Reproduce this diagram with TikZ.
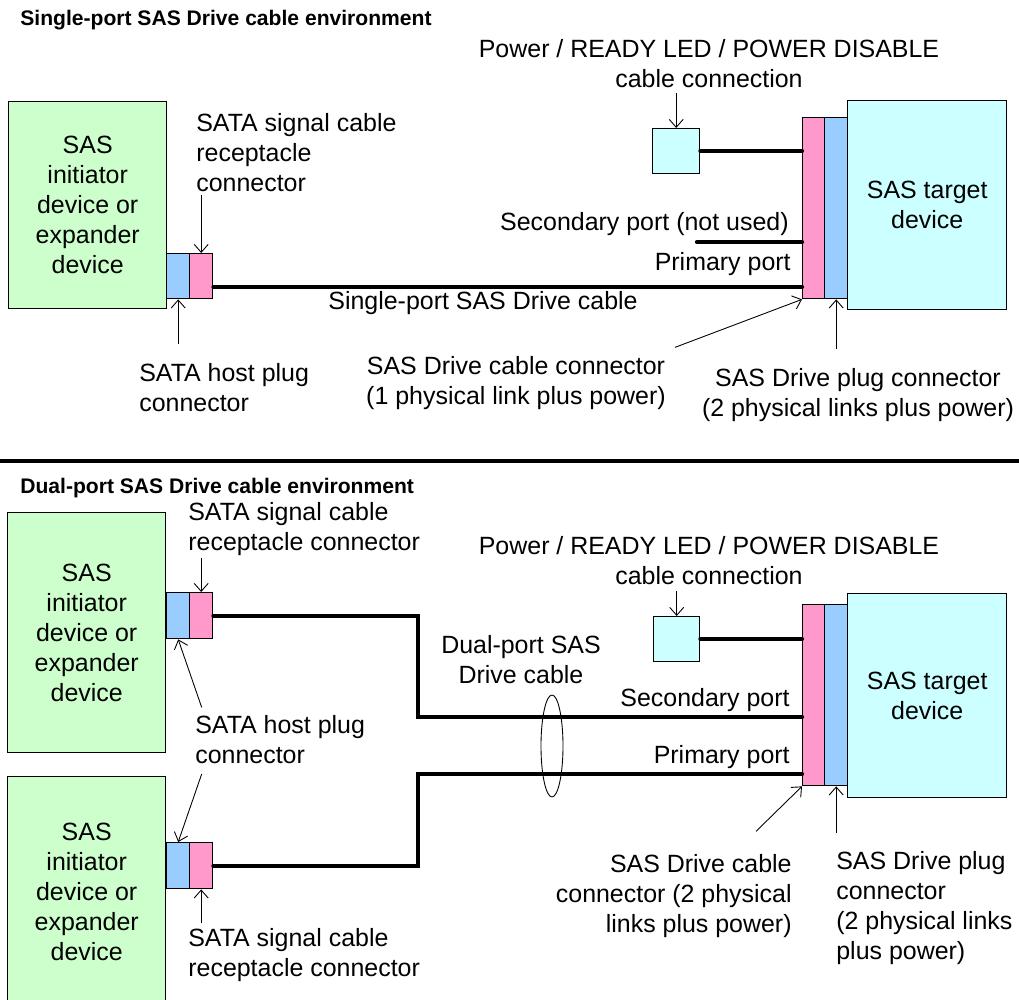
\documentclass[tikz,border=0pt]{standalone}
\usepackage{fontspec}
\setmainfont{Liberation Sans}
\usetikzlibrary{arrows.meta,calc}
\definecolor{hostgreen}{HTML}{CCFFCC}
\definecolor{tgtcyan}{HTML}{CCFFFF}
\definecolor{plugblue}{HTML}{99CCFF}
\definecolor{rcptpink}{HTML}{FF99CC}
\newcommand{\lblfont}{\fontsize{14.2pt}{17.1pt}\selectfont}
\newcommand{\ttlfont}{\bfseries\fontsize{12pt}{14pt}\selectfont}
\tikzset{
  box/.style={draw, line width=0.8pt, inner sep=0pt, align=center, anchor=north west},
  hostbox/.style={box, fill=hostgreen, minimum width=3.16cm},
  tgtbox/.style={box, fill=tgtcyan},
  plugbox/.style={box, fill=plugblue},
  rcptbox/.style={box, fill=rcptpink},
  lbl/.style={inner sep=0pt},
  ttl/.style={inner sep=0pt, anchor=west, font=\ttlfont},
  cable/.style={line width=2.4pt, line cap=round},
  arr/.style={line width=0.5pt, -{Straight Barb[length=1.6mm, width=2.8mm]}},
}
\begin{document}
\begin{tikzpicture}[x=0.02cm, y=-0.02cm, font=\lblfont]
  \useasboundingbox (0,0) rectangle (1019,1000);

  % single-port
  \node[ttl] (ttl1) at (20,20) {Single-port SAS Drive cable environment};
  \node[hostbox, minimum height=4.14cm] (host1) at (8,101) {SAS\\initiator\\device or\\expander\\device};
  \node[plugbox, minimum width=0.46cm, minimum height=0.9cm] (hp1) at (166,253) {};
  \node[rcptbox, minimum width=0.46cm, minimum height=0.9cm] (rc1) at (189,253) {};
  \node[tgtbox, minimum width=0.94cm, minimum height=0.9cm] (pw1) at (652,128) {};
  \node[tgtbox, minimum width=3.18cm, minimum height=4.18cm] (tgt1) at (847,100) {SAS target\\device};
  \node[plugbox, minimum width=0.46cm, minimum height=3.62cm] (dp1) at (824,117) {};
  \node[rcptbox, minimum width=0.44cm, minimum height=3.62cm] (dc1) at (802,117) {};
  \coordinate (pri1p) at (802,287);
  \coordinate (sec1p) at (802,242);
  \coordinate (stub1) at (697,242);
  \draw[cable] (rc1.east |- pri1p) -- (pri1p);
  \draw[cable] (stub1) -- (sec1p);
  \draw[cable] (pw1.east) -- (pw1.east -| dc1.west);

  \node[lbl, anchor=west, align=left] (srl1) at (196,153) {SATA signal cable\\receptacle\\connector};
  \node[lbl, anchor=west, align=left] (hpl1) at (139,388) {SATA host plug\\connector};
  \node[lbl, align=center] (pwl1) at (709,64) {Power / READY LED / POWER DISABLE\\cable connection};
  \node[lbl, anchor=east] (secl1) at (789,224) {Secondary port (not used)};
  \node[lbl, anchor=east] (pril1) at (791,264) {Primary port};
  \node[lbl] (cbl1) at (483,303) {Single-port SAS Drive cable};
  \node[lbl, align=center] (dcl1) at (516,383) {SAS Drive cable connector\\(1 physical link plus power)};
  \node[lbl, align=center] (dpl1) at (858,395) {SAS Drive plug connector\\(2 physical links plus power)};

  \draw[arr] ($(rc1.north)+(0,-58)$) -- (rc1.north);
  \draw[arr] ($(hp1.south)+(0,45)$) -- (hp1.south);
  \draw[arr] ($(pw1.north)+(0,-35)$) -- (pw1.north);
  \draw[arr] ($(dc1.south west)+(-127,48)$) -- (dc1.south west);
  \draw[arr] ($(dp1.south)+(0,50)$) -- (dp1.south);

  \coordinate (sepL) at (0,461);
  \coordinate (sepR) at (1019,461);
  \draw[line width=2.6pt] (sepL) -- (sepR);

  % dual-port
  \node[ttl] (ttl2) at (20,488) {Dual-port SAS Drive cable environment};
  \node[hostbox, minimum height=4.8cm] (host2a) at (7,512) {SAS\\initiator\\device or\\expander\\device};
  \node[hostbox, minimum height=4.6cm] (host2b) at (7,776) {SAS\\initiator\\device or\\expander\\device};
  \node[plugbox, minimum width=0.46cm, minimum height=0.92cm] (hp2a) at (166,592) {};
  \node[rcptbox, minimum width=0.46cm, minimum height=0.92cm] (rc2a) at (189,592) {};
  \node[plugbox, minimum width=0.46cm, minimum height=0.92cm] (hp2b) at (166,842) {};
  \node[rcptbox, minimum width=0.46cm, minimum height=0.92cm] (rc2b) at (189,842) {};
  \node[tgtbox, minimum width=0.92cm, minimum height=0.9cm] (pw2) at (653,616) {};
  \node[tgtbox, minimum width=3.18cm, minimum height=4.08cm] (tgt2) at (847,593) {SAS target\\device};
  \node[plugbox, minimum width=0.46cm, minimum height=3.62cm] (dp2) at (824,604) {};
  \node[rcptbox, minimum width=0.44cm, minimum height=3.62cm] (dc2) at (802,604) {};
  \coordinate (sec2p) at (802,717);
  \coordinate (pri2p) at (802,774);
  \coordinate (jog) at (418,745);
  \draw[cable] (rc2a.east) -| (jog |- sec2p) -- (sec2p);
  \draw[cable] (rc2b.east) -| (jog |- pri2p) -- (pri2p);
  \draw[cable] (pw2.east) -- (pw2.east -| dc2.west);
  \draw[line width=0.5pt] (552,746) ellipse [x radius=0.22cm, y radius=1.02cm];

  \node[lbl, anchor=west, align=left] (srl2a) at (188,529) {SATA signal cable\\receptacle connector};
  \node[lbl, anchor=west, align=left] (hpl2) at (195,740) {SATA host plug\\connector};
  \node[lbl, anchor=west, align=left] (srl2b) at (188,955) {SATA signal cable\\receptacle connector};
  \node[lbl, align=center] (pwl2) at (709,561) {Power / READY LED / POWER DISABLE\\cable connection};
  \node[lbl, align=center] (dual) at (521,660) {Dual-port SAS\\Drive cable};
  \node[lbl, anchor=east] (secl2) at (790,700) {Secondary port};
  \node[lbl, anchor=east] (pril2) at (790,757) {Primary port};
  \node[lbl, anchor=east, align=right] (dcl2) at (792,896) {SAS Drive cable\\connector (2 physical\\links plus power)};
  \node[lbl, anchor=west, align=left] (dpl2) at (836,908) {SAS Drive plug\\connector\\(2 physical links\\plus power)};

  \draw[arr] ($(rc2a.north)+(0,-34)$) -- (rc2a.north);
  \draw[arr] ($(hp2a.south)+(23.5,68)$) -- (hp2a.south);
  \draw[arr] ($(hp2b.north)+(23.5,-68)$) -- (hp2b.north);
  \draw[arr] ($(rc2b.south)+(0,34)$) -- (rc2b.south);
  \draw[arr] ($(pw2.north)+(0,-25)$) -- (pw2.north);
  \draw[arr] ($(dc2.south west)+(-46,45)$) -- (dc2.south west);
  \draw[arr] ($(dp2.south)+(0,47)$) -- (dp2.south);
\end{tikzpicture}
\end{document}
